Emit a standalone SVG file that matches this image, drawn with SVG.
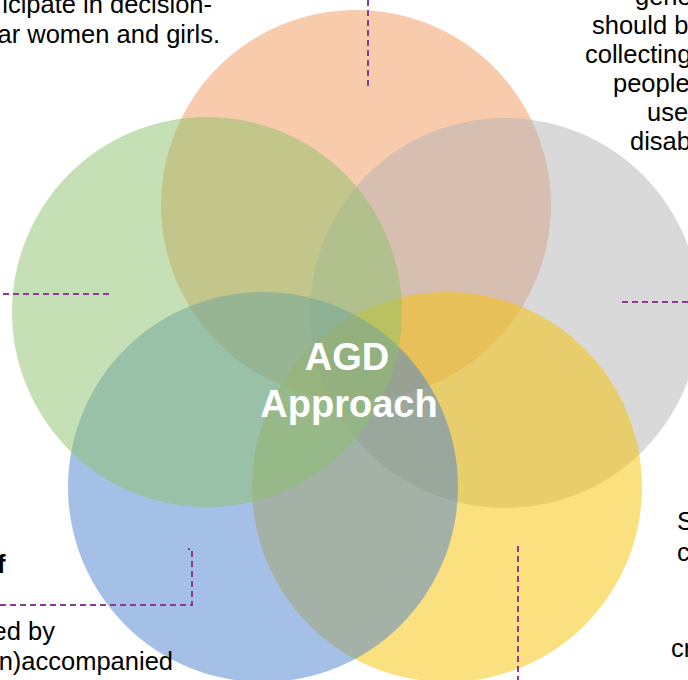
<svg xmlns="http://www.w3.org/2000/svg" width="688" height="680" viewBox="0 0 688 680">
<style>
.c{fill-opacity:0.5;stroke:none}
.t{font-family:"Liberation Sans",Arial,sans-serif;font-size:25.5px;fill:#000}
.b{font-weight:bold}
.ctr{font-family:"Liberation Sans",Arial,sans-serif;font-size:38px;font-weight:bold;fill:#fff;text-anchor:middle}
.d{fill:none;stroke:#8B3A96;stroke-width:2;stroke-dasharray:6 4}
</style>
<rect width="688" height="680" fill="#fff"/>
<g id="circle-orange"><circle class="c" cx="356" cy="205" r="195" fill="#F1975B"/></g>
<g id="circle-grey"><circle class="c" cx="505" cy="313" r="195" fill="#B3B3B3"/></g>
<g id="circle-yellow"><circle class="c" cx="447" cy="487" r="195" fill="#F7C101"/></g>
<g id="circle-blue"><circle class="c" cx="263" cy="487" r="195" fill="#4B81CD"/></g>
<g id="circle-green"><circle class="c" cx="207" cy="312" r="195" fill="#8BC169"/></g>
<g id="center">
<text class="ctr" x="347" y="370">AGD</text>
<text class="ctr" x="349" y="417">Approach</text>
</g>
<g id="connectors">
<path class="d" d="M368 0V87"/>
<path class="d" d="M3 294H111"/>
<path class="d" d="M622 302H688"/>
<path class="d" d="M518 546V680"/>
<path class="d" d="M0 605H192V549H188"/>
</g>
<g id="text-top-left">
<text class="t" x="212" y="13" text-anchor="end">icipate in decision-</text>
<text class="t" x="220" y="43" text-anchor="end">ar women and girls.</text>
</g>
<g id="text-top-right">
<text class="t" x="635" y="5">gene</text>
<text class="t" x="592" y="34">should b</text>
<text class="t" x="585" y="63">collecting</text>
<text class="t" x="613" y="92">people</text>
<text class="t" x="647" y="121">use</text>
<text class="t" x="630" y="150">disab</text>
</g>
<g id="text-bottom-left">
<text class="t b" x="-3" y="573">f</text>
<text class="t" x="55" y="640" text-anchor="end">ed by</text>
<text class="t" x="173" y="670" text-anchor="end">n)accompanied</text>
</g>
<g id="text-bottom-right">
<text class="t" x="677" y="530">S</text>
<text class="t" x="677" y="561">c</text>
<text class="t" x="671" y="657">cr</text>
</g>
</svg>
